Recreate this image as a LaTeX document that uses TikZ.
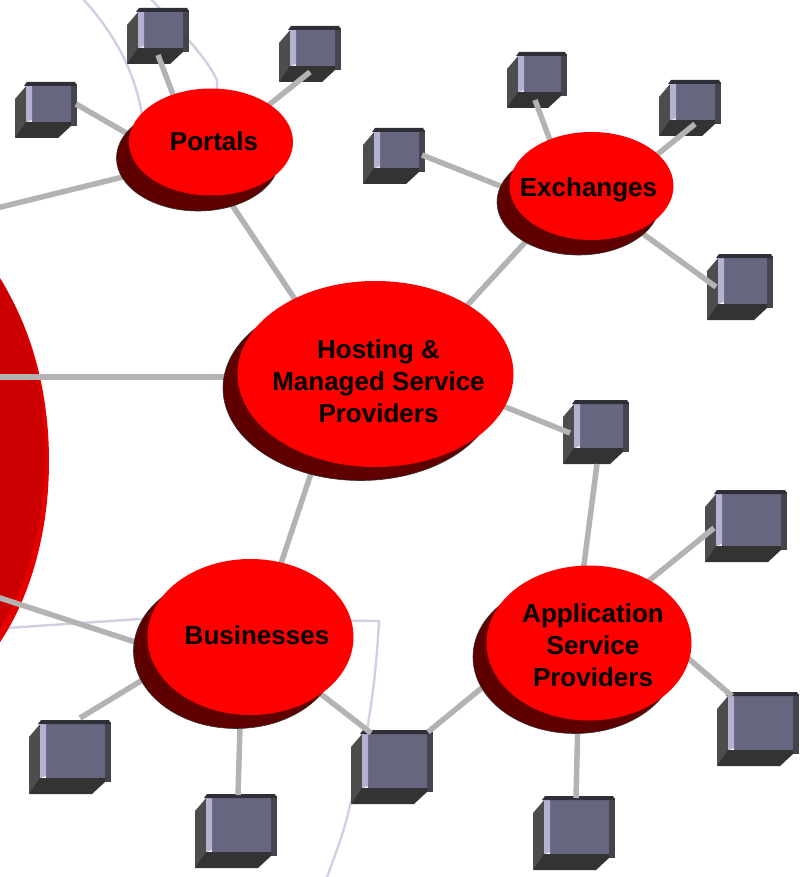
\documentclass[tikz,border=0pt]{standalone}
\usepackage{fontspec}
\setmainfont{Liberation Sans}
\usetikzlibrary{shapes.geometric}
\definecolor{linkgray}{HTML}{B3B3B3}
\definecolor{faintline}{HTML}{D0D0E2}
\definecolor{shadowred}{HTML}{5F0000}
\definecolor{cubefront}{HTML}{666680}
\definecolor{cubelight}{HTML}{B3B3D1}
\definecolor{cubeleft}{HTML}{4D4D4D}
\definecolor{cubebottom}{HTML}{333333}
\definecolor{cubetop}{HTML}{2F2F38}
\definecolor{cuberight}{HTML}{44444F}
\definecolor{bigbright}{HTML}{E60000}
\definecolor{bigdark}{HTML}{CC0000}
\tikzset{
  link/.style={draw=linkgray,line width=5.5pt},
  faint/.style={draw=faintline,line width=2.4pt,line join=round},
  hubtop/.style={shape=ellipse,fill=red,inner sep=0pt},
  hubshadow/.style={shape=ellipse,fill=shadowred,draw=cubebottom,line width=0.6pt,inner sep=0pt},
  hublabel/.style={font=\fontsize{26}{32}\selectfont\bfseries,align=center,text=black,inner sep=0pt},
  cubeanchor/.style={shape=rectangle,inner sep=0pt}
}
% name, x, y, w, h
\newcommand{\cubebox}[5]{%
  \fill[cubeleft] ({#2},{#3+17}) -- ({#2+12},{#3+3}) -- ({#2+12},{#3+#5-14}) -- ({#2},{#3+#5}) -- cycle;
  \fill[cuberight] ({#2+#4-6},{#3+2}) rectangle ({#2+#4},{#3+#5-12});
  \fill[cubebottom] ({#2+11},{#3+#5-16}) -- ({#2+#4-6},{#3+#5-16}) -- ({#2+#4-6},{#3+#5-12}) -- ({#2+#4-19},{#3+#5}) -- ({#2},{#3+#5}) -- cycle;
  \fill[cubefront] ({#2+17},{#3+3}) rectangle ({#2+#4-6},{#3+#5-16});
  \fill[cubelight] ({#2+11},{#3+3}) -- ({#2+17},{#3+3}) -- ({#2+17},{#3+#5-18}) -- ({#2+11},{#3+#5-16}) -- cycle;
  \fill[cubetop] ({#2+9},{#3+4}) -- ({#2+12},{#3}) -- ({#2+#4-2},{#3}) -- ({#2+#4},{#3+4}) -- cycle;
  \node[cubeanchor,minimum width=#4,minimum height=#5] (#1) at ({#2+#4/2},{#3+#5/2}) {};
}
\begin{document}
\begin{tikzpicture}[x=1pt,y=-1pt]
\useasboundingbox (0,0) rectangle (804,877);
\clip (0,0) rectangle (804,877);
\fill[white] (0,0) rectangle (804,877);
% faint background curves
\draw[faint] (82,-2) .. controls (112,30) and (135,70) .. (142,115);
\draw[faint] (150,-2) .. controls (175,25) and (205,55) .. (217,80) -- (217,90);
\draw[faint] (7,628) -- (140,619) -- (379,621) .. controls (376,680) and (368,740) .. (350,805) .. controls (345,830) and (335,855) .. (326,880);
% large disc at the left edge
\node[shape=ellipse,fill=bigbright,minimum width=300pt,minimum height=490pt,inner sep=0pt] (bigdisc) at (-101,461) {};
\node[shape=ellipse,fill=bigdark,minimum width=300pt,minimum height=490pt,inner sep=0pt] (bigdiscface) at (-105,453) {};
% cubes
\cubebox{pc1}{127}{8}{62}{56}
\cubebox{pc2}{279}{26}{62}{56}
\cubebox{pc3}{15}{82}{62}{56}
\cubebox{ec1}{507}{52}{60}{56}
\cubebox{ec2}{659}{80}{62}{56}
\cubebox{ec3}{363}{128}{62}{56}
\cubebox{ec4}{707}{254}{66}{66}
\cubebox{hc1}{563}{400}{66}{64}
\cubebox{ac1}{705}{490}{82}{72}
\cubebox{ac2}{717}{692}{82}{74}
\cubebox{ac3}{533}{796}{82}{74}
\cubebox{sc1}{351}{730}{82}{74}
\cubebox{bc1}{29}{720}{82}{74}
\cubebox{bc2}{195}{794}{82}{74}
% free ends of connectors
\coordinate (leftA) at (-3,208);
\coordinate (leftB) at (-3,377);
\coordinate (leftC) at (-3,597);
\coordinate (p1end) at (76,104);
\coordinate (p2end) at (158,55);
\coordinate (p3end) at (310,72);
\coordinate (e1end) at (535,100);
\coordinate (e2end) at (695,124);
\coordinate (e3end) at (422,155);
\coordinate (e4end) at (716,287);
\coordinate (h1end) at (570,433);
\coordinate (a0end) at (597,464);
\coordinate (a1end) at (714,528);
\coordinate (a2end) at (732,696);
\coordinate (a3end) at (576,798);
\coordinate (a4end) at (428,732);
\coordinate (b1end) at (80,718);
\coordinate (b2end) at (238,795);
\coordinate (b3end) at (371,733);
\coordinate (portalsC) at (211,142);
\coordinate (exchangesC) at (591.5,186);
\coordinate (hostingC) at (375.5,374);
\coordinate (businessesC) at (250.5,637);
\coordinate (aspC) at (589,643);
% connectors
\draw[link] ([shift={(-71,-1)}]portalsC) -- (p1end);
\draw[link] ([shift={(-31,-29)}]portalsC) -- (p2end);
\draw[link] ([shift={(44,-26)}]portalsC) -- (p3end);
\draw[link] ([shift={(-76,32)}]portalsC) -- (leftA);
\draw[link] ([shift={(9,45)}]portalsC) -- ([shift={(-70,-59)}]hostingC);
\draw[link] ([shift={(-36,-31)}]exchangesC) -- (e1end);
\draw[link] ([shift={(49,-18)}]exchangesC) -- (e2end);
\draw[link] ([shift={(-71,8)}]exchangesC) -- (e3end);
\draw[link] ([shift={(34,35)}]exchangesC) -- (e4end);
\draw[link] ([shift={(-56,45)}]exchangesC) -- ([shift={(80,-56)}]hostingC);
\draw[link] ([shift={(-135,3)}]hostingC) -- (leftB);
\draw[link] ([shift={(115,27)}]hostingC) -- (h1end);
\draw[link] ([shift={(-60,86)}]hostingC) -- ([shift={(25,-57)}]businessesC);
\draw[link] ([shift={(-100,10)}]businessesC) -- (leftC);
\draw[link] ([shift={(-95,35)}]businessesC) -- (b1end);
\draw[link] ([shift={(-10,73)}]businessesC) -- (b2end);
\draw[link] ([shift={(55,45)}]businessesC) -- (b3end);
\draw[link] ([shift={(-7,-63)}]aspC) -- (a0end);
\draw[link] ([shift={(46,-51)}]aspC) -- (a1end);
\draw[link] ([shift={(86,4)}]aspC) -- (a2end);
\draw[link] ([shift={(-11,72)}]aspC) -- (a3end);
\draw[link] ([shift={(-89,30)}]aspC) -- (a4end);
% hubs: shadow, then face, then label
\path
  node[hubshadow,minimum width=163pt,minimum height=106pt] (portalsShadow) at (198,158) {}
  node[hubshadow,minimum width=163pt,minimum height=106pt] (exchangesShadow) at (578.5,202) {}
  node[hubshadow,minimum width=275pt,minimum height=185pt] (hostingShadow) at (360.5,388) {}
  node[hubshadow,minimum width=205pt,minimum height=155pt] (businessesShadow) at (236,651) {}
  node[hubshadow,minimum width=204pt,minimum height=153pt] (aspShadow) at (575,657) {};
\node[hubtop,minimum width=164pt,minimum height=107pt] (portals) at (portalsC) {};
\node[hubtop,minimum width=164pt,minimum height=108pt] (exchanges) at (exchangesC) {};
\node[hubtop,minimum width=276pt,minimum height=186pt] (hosting) at (hostingC) {};
\node[hubtop,minimum width=206pt,minimum height=156pt] (businesses) at (businessesC) {};
\node[hubtop,minimum width=205pt,minimum height=155pt] (asp) at (aspC) {};
\node[hublabel] (portalsLabel) at (214,141.5) {Portals};
\node[hublabel] (exchangesLabel) at (588.5,190) {Exchanges};
\node[hublabel] (hostingLabel) at (378.5,381) {Hosting \&\\Managed Service\\Providers};
\node[hublabel] (businessesLabel) at (257,635.5) {Businesses};
\node[hublabel] (aspLabel) at (593,645) {Application\\Service\\Providers};
\end{tikzpicture}
\end{document}
